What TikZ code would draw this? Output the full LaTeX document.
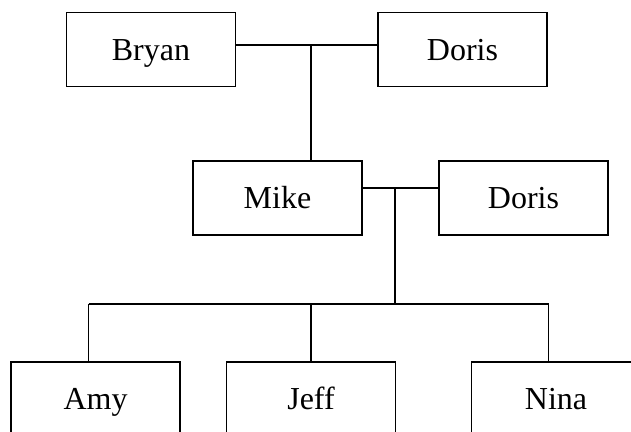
\documentclass[tikz,border=0pt]{standalone}
\usepackage{fontspec}
\setmainfont{Liberation Serif}
\begin{document}
\begin{tikzpicture}[x=1pt,y=-1pt,
  person/.style={draw=black,line width=1.5pt,minimum width=169pt,minimum height=74pt,inner sep=0pt,text height=21pt,text depth=0pt,font=\fontsize{32}{38}\selectfont},
  link/.style={draw=black,line width=1.4pt}]
\useasboundingbox (0,0) rectangle (631,431);
\clip (0,0) rectangle (631,431);
\node[person] (bryan) at (151,49.5) {Bryan};
\node[person] (doris1) at (462.5,49.5) {Doris};
\node[person] (mike) at (277.5,198) {Mike};
\node[person] (doris2) at (523.5,198) {Doris};
\node[person] (amy) at (95.5,399) {Amy};
\node[person] (jeff) at (311,399) {Jeff};
\node[person] (nina) at (556,399) {Nina};
\coordinate (j1) at (311,45);
\coordinate (j2) at (395,188);
\coordinate (j3) at (395,304);
\draw[link] (bryan.east |- j1) -- (doris1.west |- j1);
\draw[link] (j1) -- (j1 |- mike.north);
\draw[link] (mike.east |- j2) -- (doris2.west |- j2);
\draw[link] (j2) -- (j3);
\coordinate (da) at (88.5,304);
\coordinate (dj) at (311,304);
\coordinate (dn) at (548.5,304);
\draw[link] (da) -- (dn);
\draw[link] (da) -- (da |- amy.north);
\draw[link] (dj) -- (dj |- jeff.north);
\draw[link] (dn) -- (dn |- nina.north);
\end{tikzpicture}
\end{document}
